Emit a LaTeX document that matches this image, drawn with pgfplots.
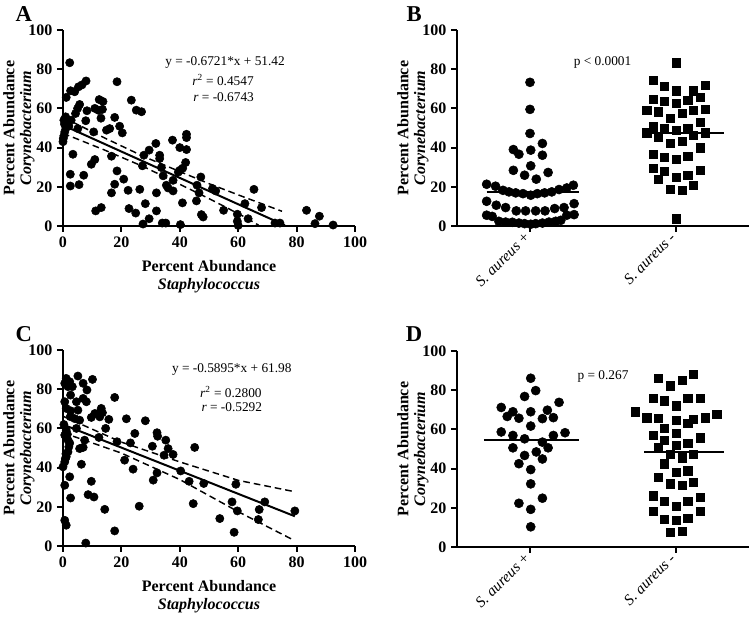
\documentclass[border=0pt]{standalone}
\usepackage{fontspec}
\setmainfont{Liberation Serif}
\usepackage{pgfplots}
\pgfplotsset{compat=1.18}
\tikzset{
  letter/.style={font=\bfseries\fontsize{17}{17}\selectfont},
  note/.style={font=\fontsize{10}{12}\selectfont},
}
\pgfplotsset{
  panel/.style={
    scale only axis, width=219pt, height=147pt,
    axis x line*=bottom, axis y line*=left,
    axis line style={line width=1.8pt, -},
    major tick style={line width=1.5pt, black},
    tick align=outside, major tick length=4.5pt,
    ymin=0, ymax=100, ytick={0,20,40,60,80,100},
    tick label style={font=\bfseries\fontsize{12}{14}\selectfont},
    /pgf/number format/assume math mode=true,
    ylabel={Percent Abundance\\\textit{Corynebacterium}},
    ylabel style={align=center, font=\bfseries\fontsize{12}{12.5}\selectfont, at={(axis description cs:-0.151,0.5)}, anchor=center},
    clip=false,
  },
  scat/.style={only marks, mark=*, mark size=3.1pt, black, mark options={fill=black}},
  dotc/.style={only marks, mark=*, mark size=3.4pt, black, mark options={fill=black}},
  dots/.style={only marks, mark=square*, mark size=3.1pt, black, mark options={fill=black}},
  cats/.style={xmin=-0.5, xmax=1.5, xtick={0,1},
    xticklabels={\textit{S. aureus} +, \textit{S. aureus} -},
    x tick label style={rotate=45, anchor=east, font=\fontsize{11.5}{13}\selectfont}},
  scatx/.style={xmin=0, xmax=100, xtick={0,20,40,60,80,100},
    xlabel={Percent Abundance\\\textit{Staphylococcus}},
    xlabel style={align=center, font=\bfseries\fontsize{12}{13.5}\selectfont, at={(axis description cs:0.5,-0.26)}, anchor=center}},
}
\begin{document}
\begin{tikzpicture}
\useasboundingbox (0,0) rectangle (562.5pt,465.75pt);

% ---------- Panel A ----------
\begin{axis}[panel, scatx, at={(47.25pt,296.25pt)}, anchor=south west]
\addplot[scat] coordinates {
(2.3,83.3) (1.1,65.6) (2.6,69) (4.0,68.5) (5.3,71) (6.5,72) (7.9,74) (18.5,73.6)
(0.9,55.7) (0.3,54) (0.5,52) (1.0,50) (0.6,48) (0.3,46) (0.1,44.6) (0.0,43)
(1.5,53) (2.0,51) (2.8,54) (4.3,57.4) (5.0,60) (5.7,62) (8.2,58.8) (7.8,53.7)
(5.1,49.7) (3.4,36.6) (2.5,26.4) (2.5,20.4) (5.5,21.1) (7.1,25.9) (10.9,60)
(12.2,59) (12.4,64.5) (13.7,63.5) (13.5,59.5) (13,55) (10.5,48) (9.7,31.5)
(10.9,33.9) (11.2,7.7) (13.1,9.4) (14.9,48.9) (16,49.7) (17.7,55.4) (19.4,50.9)
(20.3,47.5) (16.6,35.6) (17.7,21.3) (16.6,16.9) (18.5,28.1) (20.8,23.9)
(22.3,18.2) (22.6,8.9) (23.4,64.2) (25.1,59.1) (26.9,58.3) (24.9,6.6) (26.3,18.7)
(27.7,36.1) (27.2,30.7) (29.5,38.7) (31.8,42.1) (28.2,11.4) (29.5,3.7) (27.4,1.0)
(32,16.9) (32,7.7) (33.1,36.1) (33.1,34.4) (33.7,29.8) (34.3,25.6) (34,1.5)
(35.2,1.5) (35.4,20.8) (36,19.4) (37.7,17.9) (37.7,23.3) (37.5,43.8) (40,40)
(42.3,39) (42.3,46.8) (42.3,45.1) (42,32.4) (40,28.4) (41,29.5) (39.5,27.5)
(40.9,11.8) (40.2,0.7) (47.2,25) (45.9,20.8) (46.6,16.9) (45.7,12.8) (47.4,5.8)
(48,4.6) (51.2,19.1) (52.3,17.9) (55,8) (59.7,6) (59.7,2.4) (62.3,11.4) (63.4,3.7)
(65.4,18.7) (68,9.4) (72.6,1.5) (74.3,1.5) (83.4,8) (86.3,1.2) (87.8,5) (92.5,0.5)
(60,0.3)
};
\addplot[black, line width=1.5pt] coordinates {(0,51.42) (76,0.34)};
\addplot[black, line width=1.1pt, dash pattern=on 5pt off 3pt] coordinates {(0,55.5) (14,45.1) (28,35.2) (50,21.6) (62,14.75) (75,7.5)};
\addplot[black, line width=1.1pt, dash pattern=on 5pt off 3pt] coordinates {(0,47.3) (14,38.9) (28,30.0) (50,14.0) (62,4.75) (67,0.4)};
\node[note] at (axis cs:55.5,83.2) {y = -0.6721*x + 51.42};
\node[note] at (axis cs:54.8,74.5) {\textit{r}\textsuperscript{2} = 0.4547};
\node[note] at (axis cs:55,65.8) {\textit{r} = -0.6743};
\node[letter] at (rel axis cs:-0.134,1.082) {A};
\end{axis}

% ---------- Panel B ----------
\begin{axis}[panel, cats, at={(342.75pt,296.25pt)}, anchor=south west]
\addplot[dotc] coordinates {
(0,73.3) (0,59.5) (0,47.2) (-0.114,39) (-0.076,36.6) (0.005,38.7) (0.085,42.1) (0.085,36.1)
(-0.114,28.4) (-0.037,25.9) (0.005,30.7) (0.043,23.9) (0.124,27.3)
(-0.297,21.3) (-0.236,20.3) (-0.185,18.2) (-0.144,17.4) (-0.098,16.9) (-0.048,16.5) (0.005,15.7)
(0.05,16.5) (0.1,16.9) (0.149,17.4) (0.199,18.6) (0.252,19.4) (0.297,20.8)
(-0.297,12.6) (-0.231,10.6) (-0.167,9.4) (-0.094,7.7) (-0.03,7.7) (0.039,7.7) (0.103,7.7)
(0.169,8.9) (0.233,9.4) (0.302,11.4)
(-0.297,5.5) (-0.259,4.9) (0.252,5.5) (0.302,5.8)
(-0.213,2.4) (-0.167,2) (-0.121,1.9) (-0.076,1.5) (-0.037,1.2) (0.005,0.9) (0.039,1.2)
(0.085,1.5) (0.13,2) (0.176,2.4) (0.211,2.9)
};
\addplot[dots] coordinates {
(1,83.3) (0.844,74.4) (0.92,71.4) (1,69) (1.119,69) (1.2,71.9)
(0.844,64.6) (0.92,63.7) (1,62.5) (1.08,64.2) (1.165,65.6)
(0.8,59.1) (0.881,58.3) (0.959,54.9) (1.041,57.4) (1.119,59.1) (1.2,59.5) (1.165,52.8)
(0.844,50.6) (0.92,49.7) (1,48.9) (1.08,49.7) (0.8,47.5) (0.881,45.5) (1.119,46.3) (1.2,47.5)
(0.959,42.1) (1.041,43.4)
(1.165,39.9) (0.844,36.6) (0.92,34.9) (1,34.1) (1.08,35.6)
(0.844,29.3) (0.92,27.9) (1.165,28.4) (0.881,23.9) (1,25) (1.08,25.9) (1.119,20.8)
(0.959,18.7) (1.041,18.2)
(1,3.7)
};
\addplot[black, line width=1.2pt] coordinates {(-0.297,17.4) (0.336,17.4)};
\addplot[black, line width=1.2pt] coordinates {(0.783,47.5) (1.332,47.5)};
\node[note] at (axis cs:0.497,83.3) {p < 0.0001};
\node[letter] at (rel axis cs:-0.147,1.082) {B};
\end{axis}

% ---------- Panel C ----------
\begin{axis}[panel, scatx, at={(47.25pt,56.25pt)}, anchor=south west]
\addplot[scat] coordinates {
(5.1,86.7) (1.1,85.5) (0.6,83) (1.7,81.3) (2.3,83.8) (6.9,83) (10.1,85) (8.2,79.6)
(6.9,75.3) (8,73.6) (4.6,73.6) (2.6,77) (3.2,81.3) (17.7,75.8) (0.6,73.6) (1.1,70.2)
(2.6,69) (5.1,69.3) (4,65) (5.7,64.2) (9.7,65.6) (10.9,67.6) (12,67.6) (13.1,70.2)
(12.6,65.9) (13.5,68) (15.7,64.6) (14.6,60) (12.3,55.4) (21.7,64.9) (28.2,63.9)
(18.5,53.2) (23.1,52.6) (24.6,57.4) (21.1,43.8) (24,39.2) (32.2,57.8) (32.4,56)
(35.2,54) (30.6,50.9) (36,49.7) (34.6,46.3) (37.7,46.7) (32.2,37.3) (30.9,33.6)
(40.3,38.3) (43.2,33) (45.1,50.3) (44.6,21.6) (48.2,31.9) (26.1,20.3) (17.7,7.7)
(14.3,18.7) (53.7,14) (57.9,22.5) (59.2,31.5) (59.7,17.9) (58.6,7.0) (66.9,13.5)
(67.2,18.6) (69.1,22.5) (79.4,17.9) (2.3,35.3) (2.6,24.5) (0.6,31) (0.6,13.1)
(1.1,10.6) (6.3,41.7) (5.7,49.7) (6.9,50.3) (7.4,54) (8.6,26.2) (10.6,25) (9.7,33)
(7.8,1.5) (0.6,42.9) (0,40.4) (1.1,45.5) (1.7,48) (2,50.6) (1.7,54) (0.6,56.6)
(1.1,59.1) (2.5,66) (4.6,60) (0.3,62) (1.5,57) (2.3,52.5) (1.0,47) (0.8,44.5)
};
\addplot[black, line width=1.5pt] coordinates {(0,61.98) (79.4,15.18)};
\addplot[black, line width=1.1pt, dash pattern=on 5pt off 3pt] coordinates {(0,66.2) (20,53.0) (40,42.9) (60,33.5) (79,27.8)};
\addplot[black, line width=1.1pt, dash pattern=on 5pt off 3pt] coordinates {(0,57.8) (20,47.4) (40,33.9) (60,17.5) (79,3.0)};
\node[note] at (axis cs:57.8,89.8) {y = -0.5895*x + 61.98};
\node[note] at (axis cs:57.5,78.7) {\textit{r}\textsuperscript{2} = 0.2800};
\node[note] at (axis cs:57.8,70.6) {\textit{r} = -0.5292};
\node[letter] at (rel axis cs:-0.134,1.082) {C};
\end{axis}

% ---------- Panel D ----------
\begin{axis}[panel, cats, at={(342.75pt,55.5pt)}, anchor=south west]
\addplot[dotc] coordinates {
(0.005,86.1) (0.039,79.8) (-0.037,76.8) (0.199,73.8)
(-0.197,71.2) (-0.117,69) (0.005,69) (0.119,69.8)
(-0.156,66.6) (-0.076,65.7) (0.085,65.5) (0.16,66)
(0.005,61.7)
(-0.197,58.7) (-0.117,56.9) (0.16,56.9) (0.24,58.3)
(-0.037,55.2) (0.085,53.5) (-0.117,50.6) (0.124,50.6) (0.043,48.5)
(-0.037,46.7) (-0.076,42.5) (0.085,44.9) (0.005,39.5)
(0.005,32.2) (-0.076,22.3) (0.085,24.9) (0.005,19.2) (0.005,10.3)
};
\addplot[dots] coordinates {
(1.119,88.3) (0.881,86.1) (1.041,84.9) (0.959,82.3)
(0.844,76) (0.92,74.6) (1.08,76) (1.165,76) (1,72)
(0.721,69) (0.8,66) (0.881,65.5) (1,64.8) (1.119,65.2) (1.2,66) (1.279,67.8) (1.08,63.1)
(0.92,60.4) (1,58) (0.844,56.9) (0.92,54.5) (1.165,55.7)
(1,51.8) (1.08,52.8) (0.881,50.6) (0.959,47.2) (1.041,45.5) (1.119,47.2)
(0.92,42.5) (1,38.1) (1.08,38.9) (0.881,35.7) (0.959,32.2) (1.041,31.4) (1.119,33.1)
(0.844,26.2) (1.165,25.2) (0.92,23.2) (1,20.9) (1.08,23.2) (0.844,18.4) (1.165,18.4)
(0.92,14.2) (1,13.7) (1.08,14.6) (0.959,7.4) (1.041,8.1)
};
\addplot[black, line width=1.2pt] coordinates {(-0.316,54.5) (0.336,54.5)};
\addplot[black, line width=1.2pt] coordinates {(0.783,48.5) (1.332,48.5)};
\node[note] at (axis cs:0.5,87) {p = 0.267};
\node[letter] at (rel axis cs:-0.147,1.087) {D};
\end{axis}
\end{tikzpicture}
\end{document}
